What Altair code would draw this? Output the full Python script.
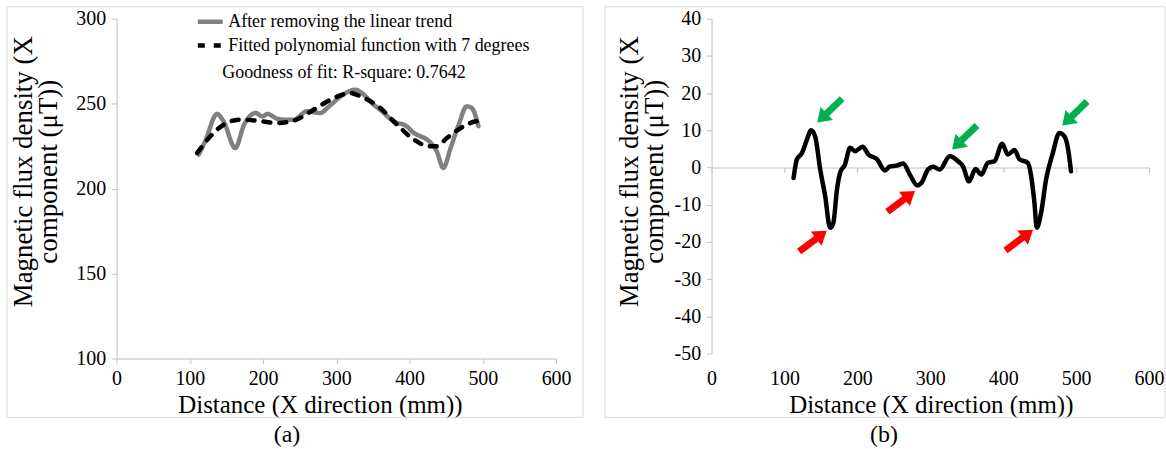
import altair as alt
import pandas as pd

# ---- Panel (a): detrended X component and its 7th-degree polynomial fit ----
dist_detrended = [112, 121, 137, 146, 162, 174, 190, 199, 206, 219, 228, 242, 260, 278,
                  290, 306, 326, 335, 351, 360, 378, 396, 406, 415, 424, 437, 446, 456,
                  467, 478, 485, 494]
bx_detrended = [220.0, 227.9, 243.9, 239.6, 223.9, 237.6, 244.5, 242.5, 243.9, 241.2,
                240.6, 240.6, 245.5, 244.5, 248.4, 254.3, 258.2, 256.2, 249.3, 246.4,
                239.6, 236.7, 232.7, 230.8, 228.8, 222.0, 212.2, 223.9, 237.6, 248.4,
                247.4, 236.7]
dist_fit = [110, 128, 146, 169, 192, 219, 242, 269, 292, 319, 333, 360, 383, 406, 428,
            437, 451, 474, 492, 494]
bx_fit = [221.0, 230.8, 237.6, 240.6, 240.0, 238.6, 240.0, 246.4, 252.3, 256.2, 254.3,
          247.4, 237.6, 228.8, 224.9, 224.9, 229.8, 236.7, 239.6, 237.0]
series_names = ["After removing the linear trend",
                "Fitted polynomial function with 7 degrees"]
fit_note = "Goodness of fit: R-square:  0.7642"

# ---- Panel (b): residual (detrended minus polynomial fit) ----
dist_resid = [112.5, 117, 124, 130.8, 136.3, 142, 149, 155.8, 162.6, 167, 172, 176.3,
              183, 190, 196.8, 207.3, 215, 226.5, 238, 244.6, 253.8, 262.8, 272, 282,
              288, 297, 303.8, 313, 326.6, 338, 344.8, 353, 362, 370, 379, 388, 398.6,
              406.3, 415.5, 422.3, 433.6, 438.3, 442.8, 446, 451.9, 458.8, 468, 477,
              484, 488.3, 493]
bx_resid = [-2.8, 2.2, 3.9, 7.5, 10.0, 8.4, -0.5, -7.7, -16.2, -14.9, -5.9, -1.4, 0.8,
            5.3, 4.4, 5.6, 3.5, 2.3, -0.8, 0.3, 0.5, 1.1, -1.9, -4.8, -4.1, -0.5, 0.2,
            -0.5, 3.0, 1.7, 0.3, -3.7, -0.4, -1.9, 1.3, 1.7, 6.4, 3.5, 4.7, 2.2, 1.3,
            -2.3, -9.5, -16.2, -12.2, -3.2, 3.9, 9.3, 8.4, 5.7, -1.0]

# arrow centres (mm, uT): green mark the peaks, red mark the troughs
peak_arrow_dist = [162, 347, 498]
peak_arrow_bx = [15.3, 8.1, 14.5]
trough_arrow_dist = [139, 260, 422]
trough_arrow_bx = [-19.8, -9.1, -19.5]

x_ticks = [0, 100, 200, 300, 400, 500, 600]
y_ticks_a = [100, 150, 200, 250, 300]
y_ticks_b = [-50, -40, -30, -20, -10, 0, 10, 20, 30, 40]

FONT = "Liberation Serif"
AXIS_GREY = "#bfbfbf"
BOX_GREY = "#d9d9d9"
W_A, H_A = 441, 341
W_B, H_B = 439, 336
Y_TITLE = ["Magnetic flux density (X", "component (\u03bcT))"]
X_TITLE = "Distance (X direction (mm))"
# plain hyphen for negative tick labels
PLAIN_LABEL = "'' + datum.value"
# block arrow pointing up, in the [-1, 1] symbol box
ARROW = "M0,-1L0.52,-0.24L0.2,-0.24L0.2,1L-0.2,1L-0.2,-0.24L-0.52,-0.24Z"

one_row = pd.DataFrame({"k": [0]})


def y_axis(values, tx, ty):
    return alt.Axis(values=values, tickCount=len(values), grid=False,
                    domainColor=AXIS_GREY, tickColor=AXIS_GREY, tickSize=5,
                    labelPadding=6, labelFont=FONT, labelFontSize=20,
                    labelColor="black", labelFlush=False, labelOverlap=False,
                    labelExpr=PLAIN_LABEL, title=Y_TITLE, titleFont=FONT,
                    titleFontSize=27, titleFontWeight="normal", titleColor="black",
                    titleLineHeight=25, titleAngle=270, titleAlign="center",
                    titleBaseline="middle", titleX=tx, titleY=ty)


def x_axis(offset, label_pad, tx, ty):
    return alt.Axis(values=x_ticks, grid=False, domainColor=AXIS_GREY,
                    tickColor=AXIS_GREY, tickSize=5, offset=offset,
                    labelPadding=label_pad, labelFont=FONT, labelFontSize=20,
                    labelColor="black", labelFlush=False, labelOverlap=False,
                    labelExpr=PLAIN_LABEL, title=X_TITLE,
                    titleFont=FONT, titleFontSize=25, titleFontWeight="normal",
                    titleColor="black", titleAlign="center", titleBaseline="middle",
                    titleX=tx, titleY=ty)


def frame(x0, x1, y0, y1):
    return alt.Chart(one_row).mark_rect(fillOpacity=0, stroke=BOX_GREY,
                                        strokeWidth=1).encode(
        x=alt.value(x0), x2=alt.value(x1), y=alt.value(y0), y2=alt.value(y1))


def caption(text, x, y):
    return alt.Chart(one_row).mark_text(text=text, font=FONT, fontSize=24,
                                        color="black").encode(
        x=alt.value(x), y=alt.value(y))


# ---------- panel (a) ----------
df_a = pd.concat([
    pd.DataFrame({"dist": dist_detrended, "bx": bx_detrended, "series": series_names[0]}),
    pd.DataFrame({"dist": dist_fit, "bx": bx_fit, "series": series_names[1]}),
])

legend = alt.Legend(orient="none", legendX=79, legendY=-12, symbolType="stroke",
                    symbolSize=625, symbolStrokeWidth=4.5, labelFont=FONT,
                    labelFontSize=18, labelColor="black", labelOffset=3,
                    labelLimit=0, rowPadding=0, padding=0)
colour = alt.Color("series:N", title=None, legend=legend,
                   scale=alt.Scale(domain=series_names, range=["#808080", "black"]))
dash = alt.StrokeDash("series:N", title=None, legend=legend,
                      scale=alt.Scale(domain=series_names, range=[[1, 0], [7, 9]]))

x_a = alt.X("dist:Q", scale=alt.Scale(domain=[0, 600], nice=False),
            axis=x_axis(0, 5, 204, 46))
y_a = alt.Y("bx:Q", scale=alt.Scale(domain=[100, 300], nice=False, zero=False),
            axis=y_axis(y_ticks_a, -93, 153))

lines_a = [
    alt.Chart(df_a).transform_filter(alt.datum.series == name)
    .mark_line(strokeWidth=4.5, strokeCap="round", interpolate="monotone")
    .encode(x=x_a, y=y_a, color=colour, strokeDash=dash)
    for name in series_names
]

note = alt.Chart(one_row).mark_text(text=fit_note, font=FONT, fontSize=18,
                                    color="black", align="left").encode(
    x=alt.value(106), y=alt.value(55))

panel_a = alt.layer(
    frame(-110, 468, -12, 400), *lines_a, note, caption("(a)", 171, 418)
).properties(width=W_A, height=H_A)

# ---------- panel (b) ----------
df_b = pd.DataFrame({"dist": dist_resid, "bx": bx_resid})
zero_from_bottom = H_B * 50 / 90

x_b = alt.X("dist:Q", scale=alt.Scale(domain=[0, 600], nice=False),
            axis=x_axis(-zero_from_bottom, 5 + zero_from_bottom + 5,
                        220, 404 - 17 - H_B + zero_from_bottom))
y_b = alt.Y("bx:Q", scale=alt.Scale(domain=[-50, 40], nice=False, zero=False),
            axis=y_axis(y_ticks_b, -82, 153))

line_b = alt.Chart(df_b).mark_line(color="black", strokeWidth=4.5, strokeCap="round",
                                   interpolate="monotone").encode(x=x_b, y=y_b)

peaks = alt.Chart(pd.DataFrame({"dist": peak_arrow_dist, "bx": peak_arrow_bx})).mark_point(
    shape=ARROW, filled=True, size=1200, opacity=1, color="#00b050", angle=226,
    strokeWidth=0).encode(x=x_b, y=y_b)
troughs = alt.Chart(pd.DataFrame({"dist": trough_arrow_dist, "bx": trough_arrow_bx})).mark_point(
    shape=ARROW, filled=True, size=1200, opacity=1, color="#ff0000", angle=53,
    strokeWidth=0).encode(x=x_b, y=y_b)

panel_b = alt.layer(
    frame(-107, 455, -12, 400), line_b, peaks, troughs, caption("(b)", 173, 418)
).properties(width=W_B, height=H_B)

chart = alt.hconcat(panel_a, panel_b, spacing=20).properties(
    padding={"left": 6, "top": 5, "right": 0, "bottom": 0}
).configure_view(stroke=None).configure_axis(labelOverlap=False)

chart.save("out.html", embed_options={"renderer": "svg", "actions": False})
